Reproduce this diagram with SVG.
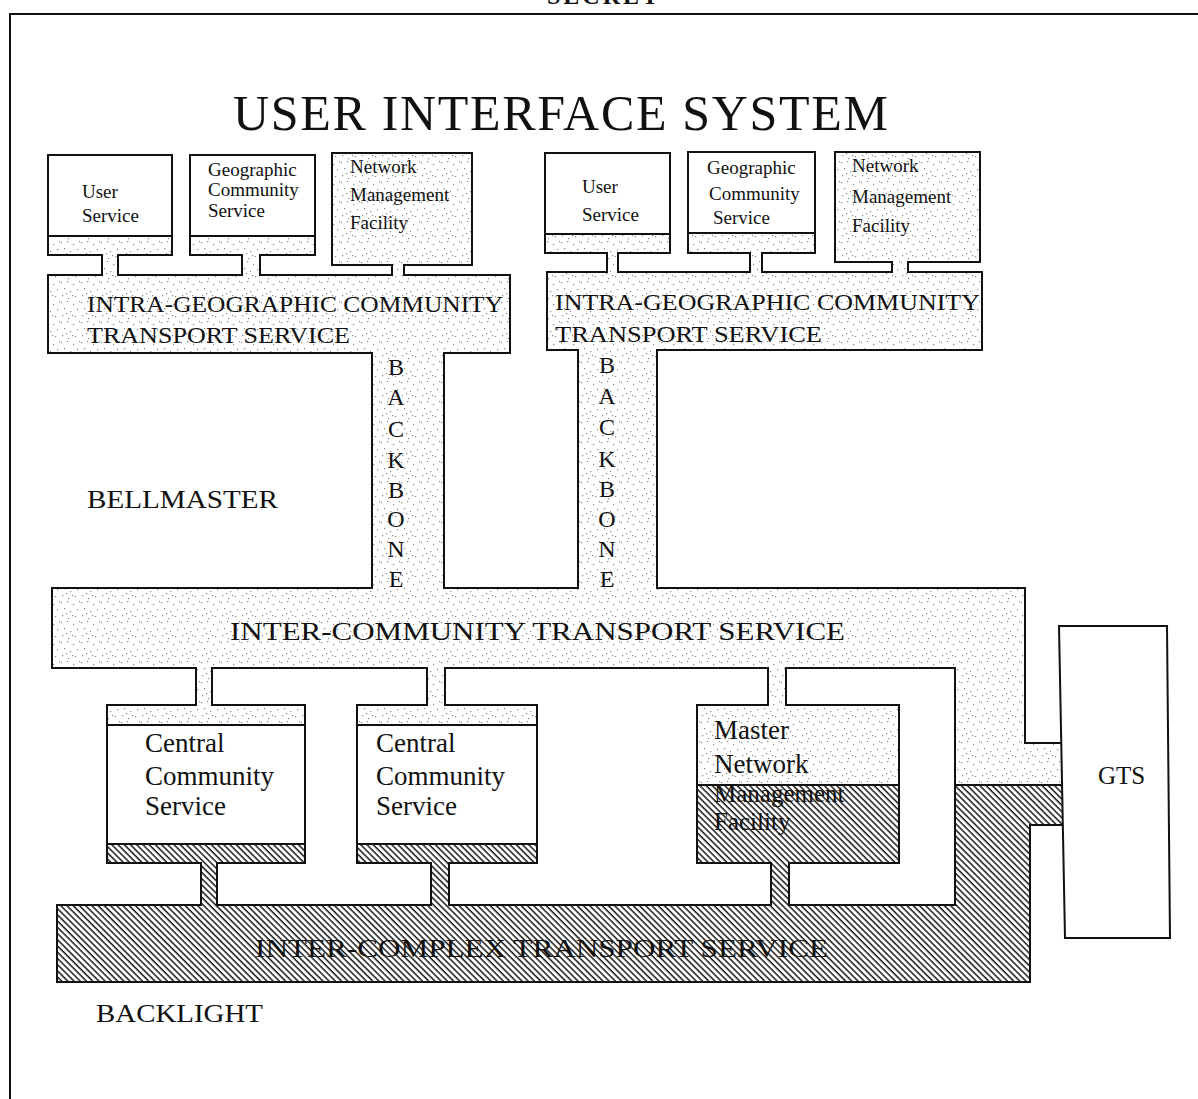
<svg xmlns="http://www.w3.org/2000/svg" width="1198" height="1099" viewBox="0 0 1198 1099">
<style>
.ln{stroke:#111;stroke-width:2;fill:none}
.bx{stroke:#111;stroke-width:2}
.st{fill:url(#stip)}
.ht{fill:url(#hatch)}
.wh{fill:#fff}
.t{font-family:"Liberation Serif","Times New Roman",serif;fill:#111}
.s{font-size:19px}
.m{font-size:27px}
.l{font-size:24px}
.bb{font-size:24px;text-anchor:middle}
</style>
<defs>
<pattern id="stip" width="20" height="20" patternUnits="userSpaceOnUse">
<rect width="20" height="20" fill="#fff"/>
<g fill="#8a8a8a">
<rect x="1" y="2" width="1.2" height="1.2"/><rect x="7" y="1" width="1.2" height="1.2"/><rect x="13" y="4" width="1.2" height="1.2"/><rect x="17" y="9" width="1.2" height="1.2"/><rect x="4" y="8" width="1.2" height="1.2"/><rect x="10" y="11" width="1.2" height="1.2"/><rect x="2" y="15" width="1.2" height="1.2"/><rect x="15" y="16" width="1.2" height="1.2"/><rect x="8" y="18" width="1.2" height="1.2"/><rect x="19" y="1" width="1.2" height="1.2"/><rect x="12" y="15" width="1.2" height="1.2"/><rect x="6" y="13" width="1.2" height="1.2"/>
</g>
</pattern>
<pattern id="hatch" width="4.4" height="4.4" patternUnits="userSpaceOnUse" patternTransform="rotate(-45)">
<rect width="4.4" height="4.4" fill="#fff"/>
<line x1="1" y1="0" x2="1" y2="4.4" stroke="#1a1a1a" stroke-width="1.5"/>
</pattern>
</defs>
<rect width="1198" height="1099" fill="#fff"/>
<g id="frame">
<path class="ln" d="M10,1099 V14 H1198"/>
<text class="t" x="547" y="4" font-size="24" font-weight="bold" textLength="111">SECRET</text>
</g>
<g id="title"><text class="t" x="233" y="130" font-size="50" textLength="655" lengthAdjust="spacing">USER INTERFACE SYSTEM</text></g>

<g id="user-service-left">
<rect class="bx wh" x="48" y="155" width="124" height="100"/>
<rect class="st" x="49" y="236" width="122" height="18"/>
<line class="ln" x1="48" y1="236" x2="172" y2="236"/>
<text class="t s" x="82" y="198">User</text><text class="t s" x="82" y="222">Service</text>
</g>
<g id="geo-community-left">
<rect class="bx wh" x="190" y="155" width="125" height="100"/>
<rect class="st" x="191" y="236" width="123" height="18"/>
<line class="ln" x1="190" y1="236" x2="315" y2="236"/>
<text class="t s" x="208" y="176">Geographic</text><text class="t s" x="208" y="196">Community</text><text class="t s" x="208" y="217">Service</text>
</g>
<g id="nmf-left">
<rect class="bx st" x="332" y="153" width="140" height="112"/>
<text class="t s" x="350" y="173">Network</text><text class="t s" x="350" y="201">Management</text><text class="t s" x="350" y="229">Facility</text>
</g>
<g id="user-service-right">
<rect class="bx wh" x="545" y="153" width="125" height="100"/>
<rect class="st" x="546" y="234" width="123" height="18"/>
<line class="ln" x1="545" y1="234" x2="670" y2="234"/>
<text class="t s" x="582" y="193">User</text><text class="t s" x="582" y="221">Service</text>
</g>
<g id="geo-community-right">
<rect class="bx wh" x="688" y="152" width="127" height="101"/>
<rect class="st" x="689" y="233" width="125" height="19"/>
<line class="ln" x1="688" y1="233" x2="815" y2="233"/>
<text class="t s" x="707" y="174">Geographic</text><text class="t s" x="709" y="200">Community</text><text class="t s" x="713" y="224">Service</text>
</g>
<g id="nmf-right">
<rect class="bx st" x="835" y="152" width="145" height="110"/>
<text class="t s" x="852" y="172">Network</text><text class="t s" x="852" y="203">Management</text><text class="t s" x="852" y="232">Facility</text>
</g>

<g id="intra-transport-left">
<rect class="bx st" x="48" y="275" width="462" height="78"/>
<text class="t l" x="87" y="312" textLength="416" lengthAdjust="spacingAndGlyphs">INTRA-GEOGRAPHIC  COMMUNITY</text>
<text class="t l" x="87" y="343" textLength="263" lengthAdjust="spacingAndGlyphs">TRANSPORT  SERVICE</text>
</g>
<g id="intra-transport-right">
<rect class="bx st" x="547" y="272" width="435" height="78"/>
<text class="t l" x="555" y="310" textLength="425" lengthAdjust="spacingAndGlyphs">INTRA-GEOGRAPHIC  COMMUNITY</text>
<text class="t l" x="555" y="342" textLength="267" lengthAdjust="spacingAndGlyphs">TRANSPORT  SERVICE</text>
</g>

<g id="inter-community-transport">
<path class="bx st" d="M52,588 H1025 V743 H1063 V785 H955 V668 H52 Z"/>
<text class="t" x="230" y="640" font-size="26" textLength="615" lengthAdjust="spacingAndGlyphs">INTER-COMMUNITY  TRANSPORT  SERVICE</text>
</g>

<g id="central-community-1">
<rect class="bx wh" x="107" y="705" width="198" height="158"/>
<rect class="st" x="108" y="706" width="196" height="19"/>
<rect class="ht" x="108" y="844" width="196" height="18"/>
<path class="ln" d="M107,725 H305 M107,844 H305"/>
<text class="t m" x="145" y="752">Central</text><text class="t m" x="145" y="785">Community</text><text class="t m" x="145" y="815">Service</text>
</g>
<g id="central-community-2">
<rect class="bx wh" x="357" y="705" width="180" height="158"/>
<rect class="st" x="358" y="706" width="178" height="19"/>
<rect class="ht" x="358" y="844" width="178" height="18"/>
<path class="ln" d="M357,725 H537 M357,844 H537"/>
<text class="t m" x="376" y="752">Central</text><text class="t m" x="376" y="785">Community</text><text class="t m" x="376" y="815">Service</text>
</g>
<g id="master-nmf">
<rect class="bx st" x="697" y="705" width="202" height="158"/>
<rect class="ht" x="698" y="785" width="200" height="77"/>
<line class="ln" x1="697" y1="785" x2="899" y2="785"/>
<text class="t m" x="714" y="739">Master</text><text class="t m" x="714" y="773">Network</text><text class="t" x="714" y="802" font-size="25">Management</text><text class="t" x="714" y="830" font-size="25">Facility</text>
</g>

<g id="inter-complex-transport">
<path class="bx ht" d="M57,905 H955 V785 H1063 V825 H1030 V982 H57 Z"/>
<text class="t" x="255" y="957" font-size="26" textLength="573" lengthAdjust="spacingAndGlyphs">INTER-COMPLEX  TRANSPORT  SERVICE</text>
</g>

<g id="gts">
<polygon class="bx wh" points="1059,626 1167,626 1170,938 1065,938"/>
<text class="t" x="1098" y="784" font-size="25">GTS</text>
</g>

<g id="connectors">
<rect class="st" x="103" y="253" width="14" height="24"/><path class="ln" d="M102,255 V275 M118,255 V275"/>
<rect class="st" x="243" y="253" width="16" height="24"/><path class="ln" d="M242,255 V275 M260,255 V275"/>
<rect class="st" x="393" y="263" width="10" height="14"/><path class="ln" d="M392,265 V275 M404,265 V275"/>
<rect class="st" x="608" y="251" width="9" height="23"/><path class="ln" d="M607,253 V272 M618,253 V272"/>
<rect class="st" x="751" y="251" width="10" height="23"/><path class="ln" d="M750,253 V272 M762,253 V272"/>
<rect class="st" x="893" y="260" width="14" height="14"/><path class="ln" d="M892,262 V272 M908,262 V272"/>
<g id="backbone-left">
<rect class="st" x="373" y="351" width="70" height="239"/><path class="ln" d="M372,353 V588 M444,353 V588"/>
<text class="t bb" x="396" y="375">B</text><text class="t bb" x="396" y="405">A</text><text class="t bb" x="396" y="437">C</text><text class="t bb" x="396" y="468">K</text><text class="t bb" x="396" y="498">B</text><text class="t bb" x="396" y="527">O</text><text class="t bb" x="396" y="557">N</text><text class="t bb" x="396" y="587">E</text>
</g>
<g id="backbone-right">
<rect class="st" x="579" y="348" width="77" height="242"/><path class="ln" d="M578,350 V588 M657,350 V588"/>
<text class="t bb" x="607" y="373">B</text><text class="t bb" x="607" y="404">A</text><text class="t bb" x="607" y="435">C</text><text class="t bb" x="607" y="467">K</text><text class="t bb" x="607" y="497">B</text><text class="t bb" x="607" y="527">O</text><text class="t bb" x="607" y="557">N</text><text class="t bb" x="607" y="587">E</text>
</g>
<rect class="st" x="197" y="666" width="14" height="41"/><path class="ln" d="M196,668 V705 M212,668 V705"/>
<rect class="st" x="428" y="666" width="16" height="41"/><path class="ln" d="M427,668 V705 M445,668 V705"/>
<rect class="st" x="769" y="666" width="16" height="41"/><path class="ln" d="M768,668 V705 M786,668 V705"/>
<rect class="ht" x="202" y="861" width="14" height="46"/><path class="ln" d="M201,863 V905 M217,863 V905"/>
<rect class="ht" x="432" y="861" width="16" height="46"/><path class="ln" d="M431,863 V905 M449,863 V905"/>
<rect class="ht" x="772" y="861" width="16" height="46"/><path class="ln" d="M771,863 V905 M789,863 V905"/>
</g>

<g id="labels">
<text class="t" x="87" y="508" font-size="26" textLength="191" lengthAdjust="spacingAndGlyphs">BELLMASTER</text>
<text class="t" x="96" y="1022" font-size="26" textLength="167" lengthAdjust="spacingAndGlyphs">BACKLIGHT</text>
</g>
</svg>
